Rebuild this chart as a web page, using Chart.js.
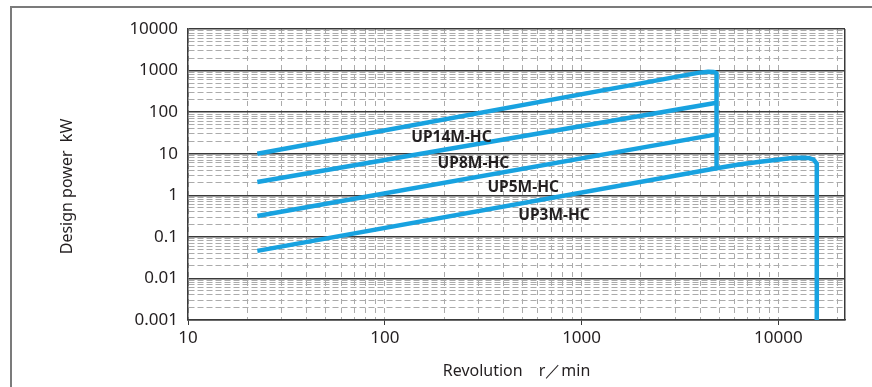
<!DOCTYPE html>
<html>
<head>
<meta charset="utf-8">
<script src="https://cdn.jsdelivr.net/npm/chart.js@4"></script>
<style>
  html, body { margin: 0; padding: 0; background: #fff; }
  #wrap { position: relative; width: 872px; height: 387px; }
  #frameTop { position: absolute; left: 10px; top: 6px; width: 862px; height: 2px; background: #7b7b7b; }
  #frameLeft { position: absolute; left: 10px; top: 6px; width: 2px; height: 381px; background: #7b7b7b; }
  canvas { position: absolute; left: 0; top: 0; }
</style>
</head>
<body>
<div id="wrap">
  <div id="frameTop"></div>
  <div id="frameLeft"></div>
  <canvas id="designChart" width="872" height="387"></canvas>
</div>
<script>
// tick labels
const xTickLabels = [10, 100, 1000, 10000];
const yTickLabels = [0.001, 0.01, 0.1, 1, 10, 100, 1000, 10000];
const xMax = 21800;

// series (rpm, kW)
const up14mRpm = [22.5, 3900, 4400, 4700, 4850, 4850, 4850];
const up14mKw  = [10, 880, 940, 930, 860, 700, 4.47];

const up8mRpm = [22.5, 4850];
const up8mKw  = [2.09, 168];

const up5mRpm = [22.5, 4850];
const up5mKw  = [0.317, 29.2];

const up3mRpm = [22.5, 4850, 6300, 8070, 11470, 13000, 14200, 15100, 15670, 15670, 15670];
const up3mKw  = [0.046, 4.47, 5.5, 6.42, 7.79, 8.05, 7.9, 7.2, 5.8, 4.5, 0.001];

// curve names and where they are written (rpm, kW)
const seriesNames = ["UP14M-HC", "UP8M-HC", "UP5M-HC", "UP3M-HC"];
const nameRpm = [218, 282, 505, 724];
const nameKw  = [24.5, 5.93, 1.57, 0.325];

const lineBlue = "#18a2e0";
const textDark = "#231f20";
const gridGrey = "#ababab";

function isDecade(v) {
  const l = Math.log10(v);
  return Math.abs(l - Math.round(l)) < 1e-9;
}

// grid values: decades plus 2..9 in between
function gridValues(decades, max) {
  const out = [];
  decades.forEach((d, i) => {
    out.push(d);
    if (i < decades.length - 1 || max) {
      for (let k = 2; k <= 9; k++) {
        const v = parseFloat((d * k).toPrecision(6));
        if (!max || v < max) out.push(v);
      }
    }
  });
  if (max) out.push(max);
  return out;
}
const xGrid = gridValues(xTickLabels, xMax);
const yGrid = gridValues(yTickLabels, null);

function toPoints(xs, ys) {
  return xs.map((x, i) => ({ x: x, y: ys[i] }));
}

const seriesData = [
  toPoints(up14mRpm, up14mKw),
  toPoints(up8mRpm, up8mKw),
  toPoints(up5mRpm, up5mKw),
  toPoints(up3mRpm, up3mKw),
];

const nameLabels = {
  id: "nameLabels",
  afterDatasetsDraw(chart) {
    const { ctx, scales } = chart;
    ctx.save();
    ctx.font = "bold 15.5px 'Noto Sans', sans-serif";
    ctx.fillStyle = textDark;
    ctx.textAlign = "center";
    ctx.textBaseline = "middle";
    seriesNames.forEach((n, i) => {
      ctx.fillText(n, scales.x.getPixelForValue(nameRpm[i]), scales.y.getPixelForValue(nameKw[i]));
    });
    ctx.restore();
  }
};

const tickFont = { family: "'Noto Sans', sans-serif", size: 17 };

new Chart(document.getElementById("designChart").getContext("2d"), {
  type: "line",
  data: {
    datasets: seriesData.map((d, i) => ({
      label: seriesNames[i],
      data: d,
      borderColor: lineBlue,
      borderWidth: 4.5,
      pointRadius: 0,
      tension: 0,
      fill: false,
      borderJoinStyle: "round",
      borderCapStyle: "butt",
    })),
  },
  options: {
    responsive: false,
    animation: false,
    parsing: false,
    layout: { padding: { left: 0, right: 27, top: 29, bottom: 0 } },
    plugins: {
      legend: { display: false },
      tooltip: { enabled: false },
    },
    scales: {
      x: {
        type: "logarithmic",
        min: 10,
        max: xMax,
        afterBuildTicks: (s) => { s.ticks = xGrid.map(v => ({ value: v })); },
        afterFit: (s) => { s.height = 67; },
        ticks: {
          autoSkip: false,
          maxRotation: 0,
          padding: 3,
          color: textDark,
          font: tickFont,
          callback: (v) => (xTickLabels.includes(v) ? String(v) : ""),
        },
        grid: {
          color: (c) => (c.tick && c.tick.value === xMax ? "#3a3a3a" : gridGrey),
          lineWidth: (c) => (c.tick && c.tick.value === xMax ? 1.5 : 1),
          tickLength: 5,
          tickColor: (c) => (c.tick && xTickLabels.includes(c.tick.value) ? "#3a3a3a" : "rgba(0,0,0,0)"),
        },
        border: {
          display: true,
          color: "#3a3a3a",
          width: 1.5,
          dash: (c) => (c.tick && c.tick.value !== xMax ? [5, 4] : []),
        },
        title: {
          display: true,
          text: "Revolution\u3000r\uFF0Fmin",
          color: textDark,
          font: { family: "'Noto Sans', sans-serif", size: 16 },
          padding: { top: 0, bottom: 6 },
        },
      },
      y: {
        type: "logarithmic",
        min: 0.001,
        max: 10000,
        afterBuildTicks: (s) => { s.ticks = yGrid.map(v => ({ value: v })); },
        afterFit: (s) => { s.width = 188; },
        ticks: {
          autoSkip: false,
          padding: 10,
          color: textDark,
          font: tickFont,
          callback: (v) => (yTickLabels.includes(v) ? String(v) : ""),
        },
        grid: {
          drawTicks: false,
          color: (c) => (c.tick && isDecade(c.tick.value) ? "#3a3a3a" : gridGrey),
          lineWidth: (c) => (c.tick && isDecade(c.tick.value) ? 1.5 : 1),
        },
        border: {
          display: true,
          color: "#3a3a3a",
          width: 1.5,
          dash: (c) => (c.tick && !isDecade(c.tick.value) ? [6, 3] : []),
        },
        title: {
          display: true,
          // trailing spaces push the visible text a little lower, as in the original
          text: "Design power  kW\u2003\u2002",
          color: textDark,
          font: { family: "'Noto Sans', sans-serif", size: 16 },
          padding: { top: 58, bottom: 0 },
        },
      },
    },
  },
  plugins: [nameLabels],
});
</script>
</body>
</html>
